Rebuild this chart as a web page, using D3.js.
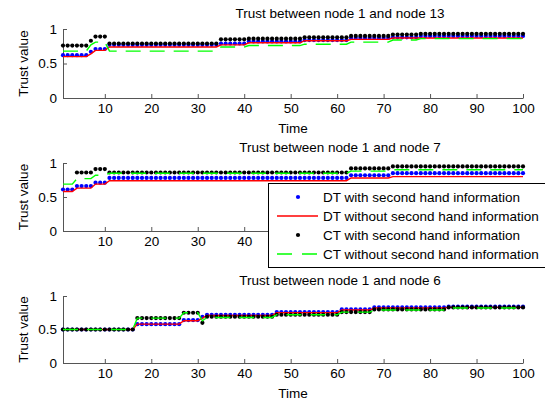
<!DOCTYPE html>
<html>
<head>
<meta charset="utf-8">
<script src="https://cdn.jsdelivr.net/npm/d3@7"></script>
<style>
  body { margin: 0; background: #fff; }
  text { font-family: "Liberation Sans", Arial, sans-serif; font-size: 13.5px; fill: #000; }
</style>
</head>
<body>
<script>
const time = d3.range(1, 101);
const xTicks = [10, 20, 30, 40, 50, 60, 70, 80, 90, 100];
const yTicks = [0, 0.5, 1];
const titles = [
  "Trust between node 1 and node 13",
  "Trust between node 1 and node 7",
  "Trust between node 1 and node 6"
];
const legendLabels = [
  "DT with second hand information",
  "DT without second hand information",
  "CT with second hand information",
  "CT without second hand information"
];

// node 1 -> node 13
const n13DtWith = [
  0.62,0.62,0.62,0.62,0.62,0.62,0.67,0.71,0.71,0.71,
  0.77,0.77,0.77,0.77,0.77,0.77,0.77,0.77,0.77,0.77,
  0.77,0.77,0.77,0.77,0.77,0.77,0.77,0.77,0.77,0.77,
  0.77,0.77,0.77,0.77,0.79,0.79,0.79,0.79,0.79,0.79,
  0.82,0.82,0.82,0.82,0.82,0.82,0.82,0.82,0.82,0.82,
  0.82,0.82,0.84,0.84,0.84,0.84,0.84,0.84,0.84,0.84,
  0.84,0.84,0.87,0.87,0.87,0.87,0.87,0.87,0.87,0.87,
  0.87,0.88,0.88,0.88,0.88,0.88,0.88,0.90,0.90,0.90,
  0.90,0.90,0.90,0.90,0.90,0.90,0.90,0.90,0.90,0.90,
  0.90,0.90,0.90,0.90,0.90,0.90,0.90,0.90,0.90,0.90
];
const n13DtWithout = [
  0.60,0.60,0.60,0.60,0.60,0.60,0.64,0.69,0.69,0.69,
  0.74,0.74,0.74,0.74,0.74,0.74,0.74,0.74,0.74,0.74,
  0.74,0.74,0.74,0.74,0.74,0.74,0.74,0.74,0.74,0.74,
  0.74,0.74,0.74,0.74,0.77,0.77,0.77,0.77,0.77,0.77,
  0.80,0.80,0.80,0.80,0.80,0.80,0.80,0.80,0.80,0.80,
  0.80,0.80,0.83,0.83,0.83,0.83,0.83,0.83,0.83,0.83,
  0.83,0.83,0.85,0.85,0.85,0.85,0.85,0.85,0.85,0.85,
  0.85,0.87,0.87,0.87,0.87,0.87,0.87,0.87,0.87,0.87,
  0.87,0.87,0.87,0.87,0.87,0.87,0.87,0.87,0.87,0.87,
  0.87,0.87,0.87,0.87,0.87,0.87,0.87,0.87,0.87,0.87
];
const n13CtWith = [
  0.76,0.76,0.76,0.76,0.76,0.76,0.83,0.89,0.89,0.89,
  0.79,0.79,0.79,0.79,0.79,0.79,0.79,0.79,0.79,0.79,
  0.79,0.79,0.79,0.79,0.79,0.79,0.79,0.79,0.79,0.79,
  0.79,0.79,0.79,0.79,0.85,0.85,0.85,0.85,0.85,0.85,
  0.86,0.86,0.86,0.86,0.86,0.86,0.86,0.86,0.86,0.86,
  0.86,0.86,0.88,0.88,0.88,0.88,0.88,0.88,0.88,0.88,
  0.88,0.88,0.90,0.90,0.90,0.90,0.90,0.90,0.90,0.90,
  0.90,0.92,0.92,0.92,0.92,0.92,0.92,0.93,0.93,0.93,
  0.93,0.93,0.93,0.93,0.93,0.93,0.93,0.93,0.93,0.93,
  0.93,0.93,0.93,0.93,0.93,0.93,0.93,0.93,0.93,0.93
];
const n13CtWithout = [
  0.68,0.68,0.68,0.68,0.68,0.68,0.77,0.81,0.81,0.81,
  0.68,0.68,0.68,0.68,0.68,0.68,0.68,0.68,0.68,0.68,
  0.68,0.68,0.68,0.68,0.68,0.68,0.68,0.68,0.68,0.68,
  0.68,0.68,0.68,0.68,0.74,0.74,0.74,0.74,0.74,0.74,
  0.76,0.76,0.76,0.76,0.76,0.76,0.76,0.76,0.76,0.76,
  0.76,0.76,0.78,0.78,0.78,0.78,0.78,0.78,0.78,0.78,
  0.78,0.78,0.81,0.81,0.81,0.81,0.81,0.81,0.81,0.81,
  0.81,0.84,0.84,0.84,0.84,0.84,0.84,0.86,0.86,0.86,
  0.86,0.86,0.86,0.86,0.86,0.86,0.86,0.86,0.86,0.86,
  0.86,0.86,0.86,0.86,0.86,0.86,0.86,0.86,0.86,0.86
];

// node 1 -> node 7
const n7DtWith = [
  0.61,0.61,0.61,0.66,0.66,0.66,0.66,0.71,0.71,0.71,
  0.78,0.78,0.78,0.78,0.78,0.78,0.78,0.78,0.78,0.78,
  0.78,0.78,0.78,0.78,0.78,0.78,0.78,0.78,0.78,0.78,
  0.78,0.78,0.78,0.78,0.78,0.78,0.78,0.78,0.78,0.78,
  0.78,0.78,0.78,0.78,0.78,0.78,0.78,0.78,0.78,0.78,
  0.78,0.78,0.78,0.78,0.78,0.78,0.78,0.78,0.78,0.78,
  0.78,0.78,0.82,0.82,0.82,0.82,0.82,0.82,0.82,0.82,
  0.82,0.85,0.85,0.85,0.85,0.85,0.85,0.85,0.85,0.85,
  0.85,0.85,0.85,0.85,0.85,0.85,0.85,0.85,0.85,0.85,
  0.85,0.85,0.85,0.85,0.85,0.85,0.85,0.85,0.85,0.85
];
const n7DtWithout = [
  0.58,0.58,0.58,0.63,0.63,0.63,0.63,0.69,0.69,0.69,
  0.74,0.74,0.74,0.74,0.74,0.74,0.74,0.74,0.74,0.74,
  0.74,0.74,0.74,0.74,0.74,0.74,0.74,0.74,0.74,0.74,
  0.74,0.74,0.74,0.74,0.74,0.74,0.74,0.74,0.74,0.74,
  0.74,0.74,0.74,0.74,0.74,0.74,0.74,0.74,0.74,0.74,
  0.74,0.74,0.74,0.74,0.74,0.74,0.74,0.74,0.74,0.74,
  0.74,0.74,0.78,0.78,0.78,0.78,0.78,0.78,0.78,0.78,
  0.78,0.80,0.80,0.80,0.80,0.80,0.80,0.80,0.80,0.80,
  0.80,0.80,0.80,0.80,0.80,0.80,0.80,0.80,0.80,0.80,
  0.80,0.80,0.80,0.80,0.80,0.80,0.80,0.80,0.80,0.80
];
const n7CtWith = [
  null,null,null,0.86,0.86,0.86,0.86,0.91,0.91,0.91,
  0.86,0.86,0.86,0.86,0.86,0.86,0.86,0.86,0.86,0.86,
  0.86,0.86,0.86,0.86,0.86,0.86,0.86,0.86,0.86,0.86,
  0.86,0.86,0.86,0.86,0.86,0.86,0.86,0.86,0.86,0.86,
  0.86,0.86,0.86,0.86,0.86,0.86,0.86,0.86,0.86,0.86,
  0.86,0.86,0.86,0.86,0.86,0.86,0.86,0.86,0.86,0.86,
  0.86,0.86,0.92,0.92,0.92,0.92,0.92,0.92,0.92,0.92,
  0.92,0.95,0.95,0.95,0.95,0.95,0.95,0.95,0.95,0.95,
  0.95,0.95,0.95,0.95,0.95,0.95,0.95,0.95,0.95,0.95,
  0.95,0.95,0.95,0.95,0.95,0.95,0.95,0.95,0.95,0.95
];
const n7CtWithout = [
  0.69,0.69,0.69,0.77,0.77,0.77,0.77,0.82,0.82,0.82,
  0.85,0.85,0.85,0.85,0.85,0.85,0.85,0.85,0.85,0.85,
  0.85,0.85,0.85,0.85,0.85,0.85,0.85,0.85,0.85,0.85,
  0.85,0.85,0.85,0.85,0.85,0.85,0.85,0.85,0.85,0.85,
  0.85,0.85,0.85,0.85,0.85,0.85,0.85,0.85,0.85,0.85,
  0.85,0.85,0.85,0.85,0.85,0.85,0.85,0.85,0.85,0.85,
  0.85,0.85,0.88,0.88,0.88,0.88,0.88,0.88,0.88,0.88,
  0.88,0.90,0.90,0.90,0.90,0.90,0.90,0.90,0.90,0.90,
  0.90,0.90,0.90,0.90,0.90,0.90,0.90,0.90,0.90,0.90,
  0.90,0.90,0.90,0.90,0.90,0.90,0.90,0.90,0.90,0.90
];

// node 1 -> node 6
const n6DtWith = [
  0.50,0.50,0.50,0.50,0.50,0.50,0.50,0.50,0.50,0.50,
  0.50,0.50,0.50,0.50,0.50,0.50,0.58,0.58,0.58,0.58,
  0.58,0.58,0.58,0.58,0.58,0.58,0.64,0.64,0.64,0.64,
  0.69,0.72,0.72,0.72,0.72,0.72,0.72,0.72,0.72,0.72,
  0.72,0.72,0.72,0.72,0.72,0.72,0.76,0.76,0.76,0.76,
  0.76,0.76,0.76,0.76,0.76,0.76,0.76,0.76,0.76,0.76,
  0.80,0.80,0.80,0.80,0.80,0.80,0.80,0.83,0.83,0.83,
  0.83,0.83,0.83,0.83,0.83,0.83,0.83,0.83,0.83,0.83,
  0.83,0.83,0.83,0.84,0.84,0.84,0.84,0.84,0.84,0.84,
  0.84,0.84,0.84,0.84,0.84,0.84,0.84,0.84,0.84,0.84
];
const n6DtWithout = [
  0.50,0.50,0.50,0.50,0.50,0.50,0.50,0.50,0.50,0.50,
  0.50,0.50,0.50,0.50,0.50,0.50,0.58,0.58,0.58,0.58,
  0.58,0.58,0.58,0.58,0.58,0.58,0.63,0.63,0.63,0.63,
  0.67,0.71,0.71,0.71,0.71,0.71,0.71,0.71,0.71,0.71,
  0.71,0.71,0.71,0.71,0.71,0.71,0.75,0.75,0.75,0.75,
  0.75,0.75,0.75,0.75,0.75,0.75,0.75,0.75,0.75,0.75,
  0.79,0.79,0.79,0.79,0.79,0.79,0.79,0.82,0.82,0.82,
  0.82,0.82,0.82,0.82,0.82,0.82,0.82,0.82,0.82,0.82,
  0.82,0.82,0.82,0.83,0.83,0.83,0.83,0.83,0.83,0.83,
  0.83,0.83,0.83,0.83,0.83,0.83,0.83,0.83,0.83,0.83
];
const n6CtWith = [
  0.50,0.50,0.50,0.50,0.50,0.50,0.50,0.50,0.50,0.50,
  0.50,0.50,0.50,0.50,0.50,0.50,0.67,0.67,0.67,0.67,
  0.67,0.67,0.67,0.67,0.67,0.67,0.75,0.75,0.75,0.75,
  0.60,0.69,0.69,0.69,0.69,0.69,0.69,0.69,0.69,0.69,
  0.69,0.69,0.69,0.69,0.69,0.69,0.72,0.72,0.72,0.72,
  0.72,0.72,0.72,0.72,0.72,0.72,0.72,0.72,0.72,0.72,
  0.76,0.76,0.76,0.76,0.76,0.76,0.76,0.80,0.80,0.80,
  0.80,0.80,0.80,0.80,0.80,0.80,0.80,0.80,0.80,0.80,
  0.80,0.80,0.80,0.83,0.83,0.83,0.83,0.83,0.83,0.83,
  0.83,0.83,0.83,0.83,0.83,0.83,0.83,0.83,0.83,0.83
];
const n6CtWithout = [
  0.50,0.50,0.50,0.50,0.50,0.50,0.50,0.50,0.50,0.50,
  0.50,0.50,0.50,0.50,0.50,0.50,0.67,0.67,0.67,0.67,
  0.67,0.67,0.67,0.67,0.67,0.67,0.75,0.75,0.75,0.75,
  0.63,0.68,0.68,0.68,0.68,0.68,0.68,0.68,0.68,0.68,
  0.68,0.68,0.68,0.68,0.68,0.68,0.72,0.72,0.72,0.72,
  0.72,0.72,0.72,0.72,0.72,0.72,0.72,0.72,0.72,0.72,
  0.76,0.76,0.76,0.76,0.76,0.76,0.76,0.79,0.79,0.79,
  0.79,0.79,0.79,0.79,0.79,0.79,0.79,0.79,0.79,0.79,
  0.79,0.79,0.79,0.82,0.82,0.82,0.82,0.82,0.82,0.82,
  0.82,0.82,0.82,0.82,0.82,0.82,0.82,0.82,0.82,0.82
];

const seriesByPanel = [
  [n13DtWith, n13DtWithout, n13CtWith, n13CtWithout],
  [n7DtWith, n7DtWithout, n7CtWith, n7CtWithout],
  [n6DtWith, n6DtWithout, n6CtWith, n6CtWithout]
];

// layout (pixels)
const panelBox = [
  { top: 29, bottom: 98 },
  { top: 163, bottom: 231 },
  { top: 296, bottom: 363 }
];
const styles = [
  { kind: "dot", color: "#0000ff" },
  { kind: "line", color: "#ff0000" },
  { kind: "dot", color: "#000000" },
  { kind: "dash", color: "#00ff00" }
];
const axisColor = "#555";
const legendBox = { x: 268.5, y: 183.5, w: 290, h: 84 };

const svg = d3.select("body")
  .append("svg")
  .attr("width", 545)
  .attr("height", 402);

const x = d3.scaleLinear().domain([1, 100]).range([63, 523]);

seriesByPanel.forEach((series, i) => {
  const box = panelBox[i];
  const y = d3.scaleLinear().domain([0, 1]).range([box.bottom, box.top]);
  const g = svg.append("g");
  // the legend covers part of the middle panel: skip labels hidden under it
  const underLegend = (px, py) => px > legendBox.x && py < legendBox.y + legendBox.h && py > legendBox.y;

  const xAxis = g.append("g")
    .attr("transform", "translate(0," + box.bottom + ")")
    .call(d3.axisBottom(x).tickValues(xTicks).tickSize(-4).tickSizeOuter(0).tickPadding(5));
  const yAxis = g.append("g")
    .attr("transform", "translate(" + x(1) + ",0)")
    .call(d3.axisLeft(y).tickValues(yTicks).tickFormat(d3.format("")).tickSize(-4).tickSizeOuter(0).tickPadding(6));
  [xAxis, yAxis].forEach(a => {
    a.selectAll("path, line").attr("stroke", axisColor);
    a.selectAll("text").attr("font-size", null).attr("font-family", null).attr("fill", "#000");
  });
  xAxis.selectAll(".tick text")
    .filter(d => underLegend(x(d) - 8, box.bottom + 12))
    .remove();

  series.forEach((vals, k) => {
    const st = styles[k];
    const pts = time.map((t, j) => [t, vals[j]]).filter(d => d[1] != null);
    if (st.kind === "dot") {
      g.append("g").selectAll("circle")
        .data(pts)
        .join("circle")
        .attr("cx", d => x(d[0]))
        .attr("cy", d => y(d[1]))
        .attr("r", 2.1)
        .attr("fill", st.color);
    } else {
      const line = d3.line().x(d => x(d[0])).y(d => y(d[1]));
      g.append("path")
        .attr("d", line(pts))
        .attr("fill", "none")
        .attr("stroke", st.color)
        .attr("stroke-width", 1.4)
        .attr("stroke-dasharray", st.kind === "dash" ? "15,9" : null);
    }
  });

  g.append("text")
    .attr("x", 340)
    .attr("y", box.top - 11)
    .attr("text-anchor", "middle")
    .text(titles[i]);
  const midX = (x.range()[0] + x.range()[1]) / 2;
  if (!underLegend(midX, box.bottom + 30)) {
    g.append("text")
      .attr("x", midX)
      .attr("y", box.bottom + 35)
      .attr("text-anchor", "middle")
      .text("Time");
  }
  g.append("text")
    .attr("transform", "translate(28," + (box.top + box.bottom) / 2 + ") rotate(-90)")
    .attr("text-anchor", "middle")
    .text("Trust value");
});

// legend sits on top of the middle panel
const legend = svg.append("g");
legend.append("rect")
  .attr("x", legendBox.x)
  .attr("y", legendBox.y)
  .attr("width", legendBox.w)
  .attr("height", legendBox.h)
  .attr("fill", "#fff")
  .attr("stroke", "#000");

legendLabels.forEach((label, k) => {
  const st = styles[k];
  const ly = 197 + k * 19;
  if (st.kind === "dot") {
    legend.append("circle").attr("cx", 298).attr("cy", ly).attr("r", 2.1).attr("fill", st.color);
  } else {
    legend.append("line")
      .attr("x1", 277).attr("x2", 318)
      .attr("y1", ly).attr("y2", ly)
      .attr("stroke", st.color)
      .attr("stroke-width", 1.4)
      .attr("stroke-dasharray", st.kind === "dash" ? "15,10" : null);
  }
  legend.append("text")
    .attr("x", 323)
    .attr("y", ly + 4.5)
    .text(label);
});
</script>
</body>
</html>
